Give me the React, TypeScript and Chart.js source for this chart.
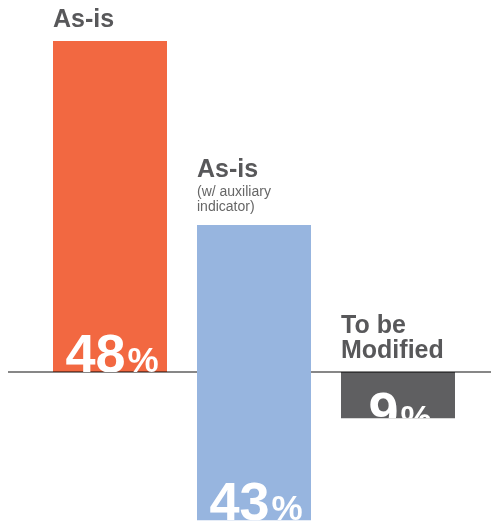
import React, { useEffect, useRef } from "react";
import { Chart, registerables } from "chart.js";

Chart.register(...registerables);

// ---- data ----
const categories = ["As-is", "As-is (w/ auxiliary indicator)", "To be Modified"];
const titleLines = [["As-is"], ["As-is"], ["To be", "Modified"]];
const subtitleLines = [[], ["(w/ auxiliary", "indicator)"], []];
const percentValues = [48, 43, 9];
const barStarts = [0, -21.5, -6.7];
const barEnds = [48, 21.3, 0];
const barColors = ["#F26841", "#97B5DF", "#5F5F61"];
// which bars sit behind the baseline (drawn before it) vs in front of it
const behindBaseline = [true, false, true];

const FONT = "'Liberation Sans', Arial, Helvetica, sans-serif";

export default function App() {
  const ref = useRef<HTMLCanvasElement | null>(null);

  useEffect(() => {
    const canvas = ref.current;
    if (!canvas) return;

    const floating = (flag: boolean) =>
      categories.map((_, i) => (behindBaseline[i] === flag ? [barStarts[i], barEnds[i]] : null));

    const annotate = {
      id: "annotate",
      afterDatasetDraw(chart: any, args: any) {
        if (chart.data.datasets[args.index].order !== 2) return;
        const ctx = chart.ctx;
        const y0 = chart.scales.y.getPixelForValue(0);
        ctx.save();
        ctx.fillStyle = "rgba(0,0,0,0.47)";
        ctx.fillRect(8, Math.round(y0) - 1, chart.width - 8, 2);
        ctx.restore();
      },
      afterDatasetsDraw(chart: any) {
        const ctx = chart.ctx;
        categories.forEach((_, i) => {
          const dsIndex = behindBaseline[i] ? 0 : 1;
          const el = chart.getDatasetMeta(dsIndex).data[i];
          if (!el) return;
          const p = el.getProps(["x", "y", "base", "width"], true);
          const left = p.x - p.width / 2;
          const right = p.x + p.width / 2;
          const top = Math.min(p.y, p.base);
          const bottom = Math.max(p.y, p.base);

          // category text above the bar
          ctx.save();
          ctx.textAlign = "left";
          ctx.textBaseline = "alphabetic";
          let yb = top - 14;
          const subs = subtitleLines[i];
          ctx.fillStyle = "#666666";
          ctx.font = `14px ${FONT}`;
          for (let k = subs.length - 1; k >= 0; k--) {
            ctx.fillText(subs[k], left, yb);
            yb -= k === 0 ? 19 : 15;
          }
          ctx.fillStyle = "#58585A";
          ctx.font = `bold 25px ${FONT}`;
          const tl = titleLines[i];
          for (let k = tl.length - 1; k >= 0; k--) {
            ctx.fillText(tl[k], left, yb);
            yb -= 25;
          }
          ctx.restore();

          // percent label, clipped to the bar
          const numText = String(percentValues[i]);
          ctx.save();
          ctx.beginPath();
          ctx.rect(left, top, right - left, bottom - top);
          ctx.clip();
          ctx.fillStyle = "#FFFFFF";
          ctx.textBaseline = "alphabetic";
          ctx.textAlign = "left";
          ctx.font = `bold 54px ${FONT}`;
          const wNum = ctx.measureText(numText).width;
          ctx.font = `bold 35px ${FONT}`;
          const wPct = ctx.measureText("%").width;
          const gap = 2;
          const total = wNum + gap + wPct;
          const startX = p.x - total / 2 + 2;
          const textTop = Math.max(bottom - 39, top + 19);
          const baseY = textTop + 39;
          ctx.font = `bold 54px ${FONT}`;
          ctx.fillText(numText, startX, baseY);
          ctx.font = `bold 35px ${FONT}`;
          ctx.fillText("%", startX + wNum + gap, baseY);
          ctx.restore();
        });
      },
    };

    const chart = new Chart(canvas, {
      type: "bar",
      data: {
        labels: categories,
        datasets: [
          {
            data: floating(true) as any,
            backgroundColor: barColors,
            borderWidth: 0,
            grouped: false,
            order: 2,
            barPercentage: 114 / 144,
            categoryPercentage: 1,
          },
          {
            data: floating(false) as any,
            backgroundColor: barColors,
            borderWidth: 0,
            grouped: false,
            order: 1,
            barPercentage: 114 / 144,
            categoryPercentage: 1,
          },
        ],
      },
      options: {
        responsive: false,
        animation: false,
        devicePixelRatio: 1,
        layout: { padding: { left: 38, right: 21, top: 0, bottom: 0 } },
        plugins: { legend: { display: false }, tooltip: { enabled: false } },
        scales: {
          x: { display: false },
          y: { display: false, min: -21.61, max: 53.94 },
        },
      },
      plugins: [annotate],
    });

    return () => chart.destroy();
  }, []);

  return (
    <div style={{ position: "fixed", left: 0, top: 0, width: 491, height: 521, background: "#fff" }}>
      <canvas ref={ref} width={491} height={521} style={{ display: "block", width: 491, height: 521 }} />
    </div>
  );
}
